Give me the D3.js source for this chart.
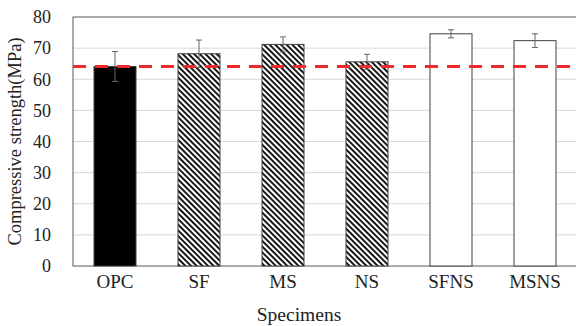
<!doctype html>
<html>
<head>
<script src="https://cdnjs.cloudflare.com/ajax/libs/d3/7.8.5/d3.min.js"></script>
<style>
  body { margin: 0; background: #fff; }
</style>
</head>
<body>
<svg id="chart" width="576" height="326"></svg>
<script>
    specimens = ["OPC", "SF", "MS", "NS", "SFNS", "MSNS"];
    strength = [64.1, 68.2, 71.2, 65.6, 74.6, 72.4];
    errors = [4.8, 4.4, 2.4, 2.4, 1.3, 2.2];
    fills = ["solid", "hatch", "hatch", "hatch", "none", "none"];
    yTicks = [0, 10, 20, 30, 40, 50, 60, 70, 80];
    refLine = 64.1;

    var FONT = "'Liberation Serif', 'DejaVu Serif', serif";
    var svg = d3.select("#chart").style("font-family", FONT);
    var pLeft = 73, pRight = 577, pTop = 17, pBottom = 266;

    var x = d3.scaleBand().domain(specimens).range([pLeft, pRight])
        .paddingInner(0.5).paddingOuter(0.25);
    var y = d3.scaleLinear().domain([0, 80]).range([pBottom, pTop]);

    // hatch pattern
    var pat = svg.append("defs").append("pattern")
        .attr("id", "hatch")
        .attr("patternUnits", "userSpaceOnUse")
        .attr("width", 4).attr("height", 4)
        .attr("patternTransform", "rotate(45)");
    pat.append("rect").attr("width", 4).attr("height", 4).style("fill", "white");
    pat.append("rect").attr("x", 0).attr("y", 0).attr("width", 4).attr("height", 1.8)
        .style("fill", "black");

    // grid
    svg.append("g").selectAll("line")
        .data(yTicks.slice(1, -1))
        .enter().append("line")
        .attr("x1", pLeft).attr("x2", pRight)
        .attr("y1", d => y(d)).attr("y2", d => y(d))
        .style("stroke", "#d9d9d9").style("stroke-width", 1);

    // frame
    svg.append("rect")
        .attr("x", pLeft).attr("y", pTop)
        .attr("width", pRight - pLeft).attr("height", pBottom - pTop)
        .style("fill", "none").style("stroke", "#595959").style("stroke-width", 1);

    // y axis labels
    svg.append("g").selectAll("text")
        .data(yTicks)
        .enter().append("text")
        .attr("x", 51).attr("y", d => y(d))
        .attr("dy", "0.35em")
        .attr("text-anchor", "end")
        .style("font-family", FONT)
        .style("font-size", "18px")
        .style("fill", "#222")
        .text(d => d);

    // bars
    svg.append("g").selectAll("rect")
        .data(specimens)
        .enter().append("rect")
        .attr("x", d => x(d))
        .attr("width", x.bandwidth())
        .attr("y", (d, i) => y(strength[i]))
        .attr("height", (d, i) => pBottom - y(strength[i]))
        .style("fill", (d, i) => fills[i] == "solid" ? "black" : fills[i] == "hatch" ? "url(#hatch)" : "white")
        .style("stroke", "#404040").style("stroke-width", 1);

    // error bars
    var eb = svg.append("g").style("stroke", "#666").style("stroke-width", 1);
    specimens.forEach(function (d, i) {
        var cx = x(d) + x.bandwidth() / 2;
        var hi = y(strength[i] + errors[i]), lo = y(strength[i] - errors[i]);
        eb.append("line").attr("x1", cx).attr("x2", cx).attr("y1", hi).attr("y2", lo);
        eb.append("line").attr("x1", cx - 3).attr("x2", cx + 3).attr("y1", hi).attr("y2", hi);
        eb.append("line").attr("x1", cx - 3).attr("x2", cx + 3).attr("y1", lo).attr("y2", lo);
    });

    // reference line
    svg.append("line")
        .attr("x1", pLeft).attr("x2", 576)
        .attr("y1", y(refLine)).attr("y2", y(refLine))
        .style("stroke", "#ee2a2a").style("stroke-width", 3)
        .style("stroke-dasharray", "13,9");

    // x labels
    svg.append("g").selectAll("text")
        .data(specimens)
        .enter().append("text")
        .attr("x", d => x(d) + x.bandwidth() / 2)
        .attr("y", 288)
        .attr("text-anchor", "middle")
        .style("font-family", FONT)
        .style("font-size", "19px")
        .style("fill", "#222")
        .text(d => d);

    svg.append("text")
        .attr("x", 299).attr("y", 321)
        .attr("text-anchor", "middle")
        .style("font-family", FONT)
        .style("font-size", "19.5px")
        .style("fill", "#222")
        .text("Specimens");

    svg.append("text")
        .attr("transform", "translate(21," + ((pTop + pBottom) / 2) + ") rotate(-90)")
        .attr("text-anchor", "middle")
        .style("font-family", FONT)
        .style("font-size", "18.5px")
        .style("fill", "#222")
        .text("Compressive strength(MPa)");
</script>
</body>
</html>
